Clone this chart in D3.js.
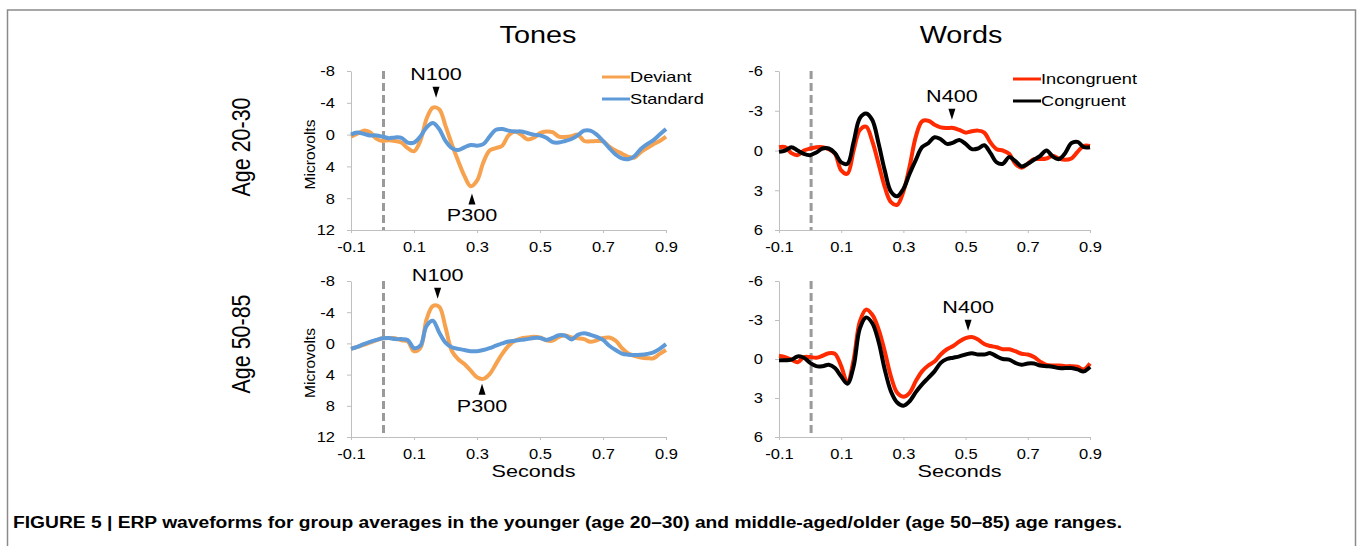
<!DOCTYPE html>
<html lang="en">
<head>
<meta charset="utf-8"/>
<style>
  body { margin: 0; background: #ffffff; }
  * { font-family: "Liberation Sans", Arial, Helvetica, sans-serif; }
  .axis path, .axis line { stroke: #bfbfbf; }
  .axis text { font-size: 15px; fill: #000; }
</style>
</head>
<body>
<svg id="container" width="1358" height="546"></svg>

<script src="https://d3js.org/d3.v7.min.js"></script>
<script>
let times = [-0.1,-0.08,-0.06,-0.04,-0.02,0,0.02,0.04,0.06,0.08,0.1,0.12,0.14,0.16,0.18,0.2,0.22,0.24,0.26,0.28,
             0.3,0.32,0.34,0.36,0.38,0.4,0.42,0.44,0.46,0.48,0.5,0.52,0.54,0.56,0.58,0.6,0.62,0.64,0.66,0.68,
             0.7,0.72,0.74,0.76,0.78,0.8,0.82,0.84,0.86,0.88,0.9]

let toneYoungDeviant = [0.25,-0.1,-0.5,-0.3,0.5,0.8,0.7,0.8,1.0,1.7,2.1,0.8,-2.0,-3.4,-3.2,-1.1,1.2,3.3,5.2,6.5,
                        5.8,3.5,2.0,1.7,1.4,0.1,-0.4,0,0.6,0.4,-0.2,-0.4,-0.3,0.25,0.3,0.2,0,0.8,0.85,0.8,
                        0.85,1.5,2.0,2.4,2.8,2.9,2.2,1.7,1.2,0.8,0.25]
let toneYoungStandard = [0,-0.25,-0.1,0.1,0.1,0.25,0.45,0.35,0.4,1.0,1.0,0.25,-0.9,-1.45,-0.7,0.8,1.7,1.95,1.6,1.3,
                         1.4,1.2,0.25,-0.6,-0.7,-0.5,-0.4,-0.4,-0.2,0,0.1,0.4,0.95,1.0,0.8,0.55,0.1,-0.5,-0.5,0,
                         0.8,1.7,2.5,3.0,3.1,2.7,1.8,1.2,0.7,0,-0.7]
let wordYoungIncongruent = [-0.25,-0.25,0.2,0.35,0,-0.15,-0.25,-0.25,-0.1,0.25,1.5,1.75,0,-1.55,-1.8,-0.7,1.0,2.75,3.9,4.1,
                            3.1,1.2,-1.05,-2.2,-2.25,-1.95,-1.75,-1.7,-1.7,-1.55,-1.35,-1.45,-1.5,-1.35,-0.6,-0.1,0,0.25,1.0,1.3,
                            1.0,0.65,0.65,0.6,0.4,0.6,0.7,0.6,0.1,-0.35,-0.35]
let wordYoungCongruent = [0.1,0,-0.25,0,0.25,0.35,0.15,-0.15,-0.15,0.2,0.9,1.0,-0.65,-2.45,-2.8,-2.3,-0.55,1.5,3.1,3.45,
                          2.9,1.75,0.7,-0.25,-0.55,-1.0,-0.85,-0.5,-0.6,-0.8,-0.5,-0.1,-0.15,-0.4,0.2,0.9,1.0,0.5,0.8,1.2,
                          1.0,0.7,0.4,0,0.45,0.65,0.2,-0.55,-0.65,-0.25,-0.25]
let toneOldDeviant = [0.7,0.45,0.2,-0.1,-0.4,-0.65,-0.7,-0.65,-0.4,-0.25,1.0,0.6,-3.1,-4.8,-4.7,-2.05,0.95,2.0,2.65,3.5,
                      4.35,4.55,3.95,2.65,1.35,0.3,-0.35,-0.65,-0.75,-0.85,-0.75,-0.4,-0.35,-0.85,-1.0,-0.75,-0.65,-0.55,-0.2,-0.4,
                      -0.7,-0.75,-0.35,0.6,1.3,1.6,1.8,1.9,1.9,1.35,0.85]
let toneOldStandard = [0.7,0.45,0.1,-0.2,-0.45,-0.65,-0.7,-0.55,-0.55,-0.45,0.6,0.3,-2.25,-2.9,-1.4,-0.1,0.5,0.7,0.85,1.0,
                       1.0,0.85,0.6,0.3,0,-0.25,-0.35,-0.45,-0.55,-0.7,-0.7,-0.45,-0.7,-1.05,-1.0,-0.5,-1.1,-1.3,-1.1,-0.85,
                       -0.45,0.3,0.85,1.3,1.45,1.5,1.45,1.35,1.15,0.7,0.1]
let wordOldIncongruent = [-0.25,-0.15,0.05,0.25,-0.15,-0.15,-0.1,-0.25,-0.45,-0.4,0.55,1.8,0.05,-2.9,-3.8,-3.4,-2.3,-0.6,1.35,2.6,
                          2.9,2.6,1.7,0.95,0.5,0.2,-0.35,-0.75,-1.0,-1.35,-1.6,-1.7,-1.5,-1.15,-1.0,-0.9,-0.75,-0.75,-0.6,-0.4,
                          -0.35,-0.15,0.2,0.45,0.5,0.5,0.55,0.55,0.6,0.8,0.35]
let wordOldCongruent = [0.1,0.1,0.05,-0.2,-0.1,0.3,0.55,0.55,0.45,0.7,1.35,1.9,0.55,-2.35,-3.2,-2.75,-1.35,0.8,2.5,3.35,
                        3.6,3.25,2.55,1.95,1.45,0.95,0.3,0,-0.1,-0.2,-0.35,-0.45,-0.35,-0.35,-0.45,-0.2,0,0.05,0.3,0.45,
                        0.35,0.35,0.5,0.55,0.6,0.7,0.7,0.7,0.8,0.95,0.6]

let xTicks = [-0.1,0.1,0.3,0.5,0.7,0.9]
let yTicksTones = [-8,-4,0,4,8,12]
let yTicksWords = [-6,-3,0,3,6]
let columnTitles = ["Tones","Words"]
let rowTitles = ["Age 20-30","Age 50-85"]
let toneNames = ["Deviant","Standard"]
let wordNames = ["Incongruent","Congruent"]
// peak markers: [label, time, tip value, direction]
let toneYoungPeaks = [["N100",0.17,-4.65,"down"],["P300",0.284,7.4,"up"]]
let toneOldPeaks = [["N100",0.175,-5.73,"down"],["P300",0.316,5.17,"up"]]
let wordYoungPeaks = [["N400",0.456,-2.33,"down"]]
let wordOldPeaks = [["N400",0.508,-2.17,"down"]]
let caption = "FIGURE 5 | ERP waveforms for group averages in the younger (age 20\u201330) and middle-aged/older (age 50\u201385) age ranges."

let colors = {Deviant:"#f7a24f", Standard:"#5f9ad8", Incongruent:"#ff2a00", Congruent:"#000000"}

let svg = d3.select("svg")

// layout of the four panels
let colX = [351, 779], colW = [315, 311]
let rowY = [71, 281], rowH = [159, 156]

let panels = [
  {r:0, c:0, ticks:yTicksTones, names:toneNames, vals:[toneYoungDeviant,toneYoungStandard], peaks:toneYoungPeaks, legend:[602,77]},
  {r:0, c:1, ticks:yTicksWords, names:wordNames, vals:[wordYoungIncongruent,wordYoungCongruent], peaks:wordYoungPeaks, legend:[1013,79]},
  {r:1, c:0, ticks:yTicksTones, names:toneNames, vals:[toneOldDeviant,toneOldStandard], peaks:toneOldPeaks},
  {r:1, c:1, ticks:yTicksWords, names:wordNames, vals:[wordOldIncongruent,wordOldCongruent], peaks:wordOldPeaks}
]

// text that looks horizontally stretched like the original
function label(g, x, y, txt, size, sx, anchor) {
  return g.append("text")
    .attr("transform", "translate(" + x + "," + y + ") scale(" + sx + ",1)")
    .attr("text-anchor", anchor || "middle")
    .style("font-size", size + "px")
    .text(txt)
}

// frame round the figure
svg.append("rect").attr("x", 7.5).attr("y", 10).attr("width", 1348).attr("height", 600)
  .attr("fill", "none").attr("stroke", "#8a8a8a").attr("stroke-width", 1.5)

panels.forEach(p => {
  let x = d3.scaleLinear().domain([-0.1, 0.9]).range([colX[p.c], colX[p.c] + colW[p.c]])
  let y = d3.scaleLinear().domain([p.ticks[0], p.ticks[p.ticks.length-1]]).range([rowY[p.r], rowY[p.r] + rowH[p.r]])
  let g = svg.append("g")

  let gx = g.append("g").attr("class", "axis")
    .attr("transform", "translate(0," + y.range()[1] + ")")
    .call(d3.axisBottom(x).tickValues(xTicks).tickFormat(d => d.toFixed(1)).tickSizeInner(3).tickSizeOuter(0).tickPadding(8))
  gx.selectAll(".tick text").attr("transform", "scale(1.1,1)")

  let gy = g.append("g").attr("class", "axis")
    .attr("transform", "translate(" + x.range()[0] + ",0)")
    .call(d3.axisLeft(y).tickValues(p.ticks).tickFormat(d => String(d)).tickSizeInner(4).tickSizeOuter(0).tickPadding(12))
  gy.selectAll(".tick text").attr("transform", "scale(1.1,1)").attr("x", -16 / 1.1)

  // stimulus onset
  g.append("line").attr("x1", x(0) + 1).attr("x2", x(0) + 1).attr("y1", y.range()[0]).attr("y2", y.range()[1])
    .attr("stroke", "#9a9a9a").attr("stroke-width", 3).attr("stroke-dasharray", "8,4")

  let line = d3.line().x((d, i) => x(times[i])).y(d => y(d)).curve(d3.curveCatmullRom)
  p.vals.forEach((v, k) => {
    g.append("path").datum(v).attr("d", line)
      .attr("fill", "none").attr("stroke", colors[p.names[k]]).attr("stroke-width", 4)
      .attr("stroke-linejoin", "round")
  })

  p.peaks.forEach(pk => {
    let tx = x(pk[1]), ty = y(pk[2])
    let s = pk[3] == "down" ? -1 : 1
    g.append("path")
      .attr("d", "M" + (tx-3.5) + "," + (ty + s*11) + "L" + (tx+3.5) + "," + (ty + s*11) + "L" + tx + "," + ty + "Z")
      .attr("fill", "#000")
    label(g, tx, pk[3] == "down" ? ty - 18 : ty + 28, pk[0], 16, 1.35)
  })

  if (p.legend) {
    p.names.forEach((n, k) => {
      let ly = p.legend[1] + k * 22
      g.append("line").attr("x1", p.legend[0]).attr("x2", p.legend[0] + 28).attr("y1", ly).attr("y2", ly)
        .attr("stroke", colors[n]).attr("stroke-width", 3)
      label(g, p.legend[0] + 28, ly + 5, n, 14, 1.3, "start")
    })
  }

  if (p.c == 0) {
    let cy = (y.range()[0] + y.range()[1]) / 2 + 4
    g.append("text").attr("transform", "translate(315," + cy + ") rotate(-90)")
      .attr("text-anchor", "middle").style("font-size", "15.5px").text("Microvolts")
  }
  if (p.r == 1) {
    label(g, (x.range()[0] + x.range()[1]) / 2 + 25, 477, "Seconds", 16, 1.35)
  }
})

// column and row titles
label(svg, 538, 43, columnTitles[0], 24, 1.2)
label(svg, 961, 43, columnTitles[1], 24, 1.2)
let rowCenters = [147, 344]
rowTitles.forEach((t, i) => {
  svg.append("text").attr("transform", "translate(250," + rowCenters[i] + ") rotate(-90)")
    .attr("text-anchor", "middle").style("font-size", "26px")
    .attr("textLength", 99).attr("lengthAdjust", "spacingAndGlyphs").text(t)
})

svg.append("text").attr("x", 13).attr("y", 528)
  .style("font-size", "16px").style("font-weight", "bold")
  .attr("textLength", 1109).attr("lengthAdjust", "spacingAndGlyphs").text(caption)
</script>
</body>
</html>
